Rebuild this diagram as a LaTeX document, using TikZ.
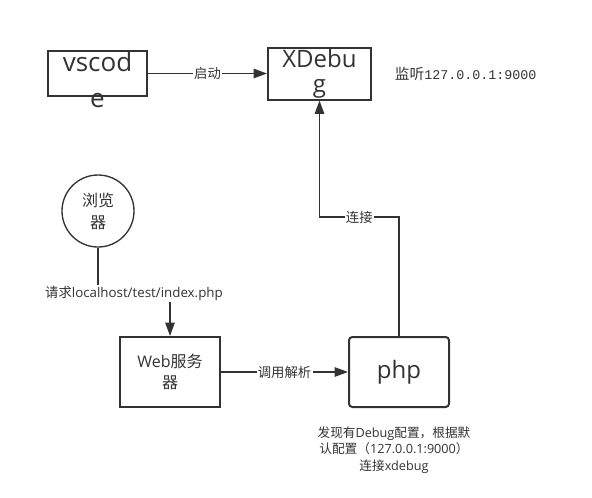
\documentclass[tikz,border=0pt]{standalone}
\usepackage{fontspec}
\setmainfont{Open Sans}
\newfontfamily\cjk{Noto Sans CJK SC}
\newfontfamily\mono{Liberation Mono}
\usetikzlibrary{arrows.meta,shapes.geometric,positioning}
\definecolor{ink}{HTML}{333333}

\begin{document}
\begin{tikzpicture}[
	x=0.75pt, y=-0.75pt,
	box/.style={rectangle, draw=ink, line width=1.5pt, minimum width=75pt, minimum height=52.5pt, inner sep=0pt, align=center, text=ink, font=\fontsize{12}{15.2}\selectfont},
	roundbox/.style={box, rounded corners=2.5pt},
	client/.style={circle, draw=ink, line width=1pt, minimum size=54pt, inner sep=0pt, align=center, text=ink, font=\fontsize{12}{16.5}\selectfont},
	flow/.style={-{Triangle[length=10pt,width=7pt]}, line width=1.2pt, draw=ink},
	tag/.style={fill=white, inner sep=1pt, text=ink, font=\fontsize{10}{12}\selectfont},
	bigtext/.style={align=center, text=ink, inner sep=0pt},
	note/.style={align=center, text=ink, inner sep=0pt, font=\fontsize{9.5}{12.2}\selectfont}
	]
	
	% page with the reference margins
	\path[use as bounding box, fill=white] (0,0) rectangle (592,497);
	
	% top row: editor and debugger
	\node[box, minimum width=74.25pt, minimum height=33.75pt] (vscode) at (97.5,73.5) {};
	\node[bigtext, font=\fontsize{19.5}{27}\selectfont] (vscodetext) at (97.5,80) {vscod\\e};
	\node[box, minimum width=77.25pt, minimum height=39pt, font=\fontsize{18}{19}\selectfont] (xdebug) at (319.5,73.5) {XDebu\\g};
	\node[anchor=west, inner sep=0pt, text=ink, font=\fontsize{11}{13}\selectfont, right=17pt of xdebug] (listen) {{\cjk 监听}{\mono\fontsize{10}{12}\selectfont 127.0.0.1:9000}};
	
	% browser
	\node[client] (browser) at (98,211) {{\cjk 浏览}\\{\cjk 器}};
	
	% bottom row: server and interpreter
	\node[box] (web) at (170,372) {Web{\cjk 服务}\\{\cjk 器}};
	\node[roundbox, font=\fontsize{18}{20}\selectfont] (php) at (399,372) {php};
	\node[note, below=14pt of php, xshift=-3.75pt] (phpnote) {{\cjk 发现有}Debug{\cjk 配置，根据默}\\{\cjk 认配置（}127.0.0.1:9000{\cjk ）}\\{\cjk 连接}xdebug};
	
	% connectors
	\draw[flow] (vscode) -- node[tag] {\cjk 启动} (xdebug);
	\draw[flow] (browser.south) -- ++(0,46) -| node[tag, pos=0.25] {{\cjk 请求}localhost/test/index.php} (web.north);
	\draw[flow] (web) -- node[tag] {\cjk 调用解析} (php);
	\draw[flow] (php.north) -- ++(0,-119) -| node[tag, pos=0.25] {\cjk 连接} (xdebug.south);
	
\end{tikzpicture}
\end{document}
